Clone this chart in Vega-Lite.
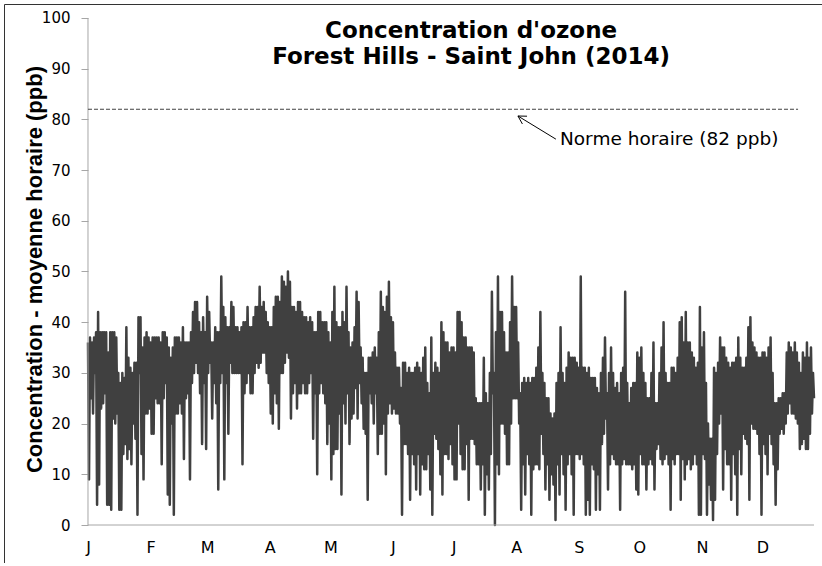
{
"$schema":"https://vega.github.io/schema/vega-lite/v6.json",
"width":820,"height":559,
"autosize":{"type":"none"},
"padding":{"left":4,"top":4,"right":0,"bottom":0},
"background":"white",
"config":{"view":{"stroke":"#333333","strokeWidth":1},"font":"DejaVu Sans"},
"layer":[
{"data":{"values":[
{"d":0,"v":36},{"d":0.5,"v":9},{"d":1,"v":37},{"d":1.5,"v":25},{"d":2,"v":36},{"d":2.5,"v":22},{"d":3,"v":37},{"d":3.5,"v":30},{"d":4,"v":38},{"d":4.5,"v":4},
{"d":5,"v":42},{"d":5.5,"v":8},{"d":6,"v":38},{"d":6.5,"v":23},{"d":7,"v":38},{"d":7.5,"v":24},{"d":8,"v":38},{"d":8.5,"v":26},{"d":9,"v":38},{"d":9.5,"v":4},
{"d":10,"v":34},{"d":10.5,"v":4},{"d":11,"v":38},{"d":11.5,"v":3},{"d":12,"v":38},{"d":12.5,"v":21},{"d":13,"v":38},{"d":13.5,"v":20},{"d":14,"v":37},{"d":14.5,"v":22},
{"d":15,"v":30},{"d":15.5,"v":3},{"d":16,"v":28},{"d":16.5,"v":3},{"d":17,"v":30},{"d":17.5,"v":14},{"d":18,"v":29},{"d":18.5,"v":16},{"d":19,"v":39},{"d":19.5,"v":13},
{"d":20,"v":33},{"d":20.5,"v":15},{"d":21,"v":31},{"d":21.5,"v":12},{"d":22,"v":30},{"d":22.5,"v":20},{"d":23,"v":32},{"d":23.5,"v":17},{"d":24,"v":32},{"d":24.5,"v":2},
{"d":25,"v":41},{"d":25.5,"v":30},{"d":26,"v":41},{"d":26.5,"v":14},{"d":27,"v":35},{"d":27.5,"v":9},{"d":28,"v":37},{"d":28.5,"v":22},{"d":29,"v":38},{"d":29.5,"v":22},
{"d":30,"v":37},{"d":30.5,"v":23},{"d":31,"v":36},{"d":31.5,"v":18},{"d":32,"v":37},{"d":32.5,"v":18},{"d":33,"v":37},{"d":33.5,"v":25},{"d":34,"v":37},{"d":34.5,"v":24},
{"d":35,"v":37},{"d":35.5,"v":24},{"d":36,"v":36},{"d":36.5,"v":12},{"d":37,"v":38},{"d":37.5,"v":25},{"d":38,"v":38},{"d":38.5,"v":28},{"d":39,"v":37},{"d":39.5,"v":6},
{"d":40,"v":35},{"d":40.5,"v":4},{"d":41,"v":33},{"d":41.5,"v":20},{"d":42,"v":35},{"d":42.5,"v":2},{"d":43,"v":37},{"d":43.5,"v":22},{"d":44,"v":37},{"d":44.5,"v":22},
{"d":45,"v":37},{"d":45.5,"v":24},{"d":46,"v":36},{"d":46.5,"v":22},{"d":47,"v":39},{"d":47.5,"v":13},{"d":48,"v":36},{"d":48.5,"v":25},{"d":49,"v":36},{"d":49.5,"v":26},
{"d":50,"v":36},{"d":50.5,"v":9},{"d":51,"v":38},{"d":51.5,"v":28},{"d":52,"v":42},{"d":52.5,"v":30},{"d":53,"v":44},{"d":53.5,"v":32},{"d":54,"v":44},{"d":54.5,"v":30},
{"d":55,"v":40},{"d":55.5,"v":26},{"d":56,"v":38},{"d":56.5,"v":16},{"d":57,"v":41},{"d":57.5,"v":28},{"d":58,"v":38},{"d":58.5,"v":15},{"d":59,"v":45},{"d":59.5,"v":30},
{"d":60,"v":42},{"d":60.5,"v":32},{"d":61,"v":36},{"d":61.5,"v":21},{"d":62,"v":36},{"d":62.5,"v":28},{"d":63,"v":39},{"d":63.5,"v":24},{"d":64,"v":38},{"d":64.5,"v":7},
{"d":65,"v":38},{"d":65.5,"v":28},{"d":66,"v":49},{"d":66.5,"v":30},{"d":67,"v":43},{"d":67.5,"v":9},{"d":68,"v":41},{"d":68.5,"v":28},{"d":69,"v":39},{"d":69.5,"v":18},
{"d":70,"v":39},{"d":70.5,"v":32},{"d":71,"v":44},{"d":71.5,"v":30},{"d":72,"v":43},{"d":72.5,"v":30},{"d":73,"v":39},{"d":73.5,"v":30},{"d":74,"v":39},{"d":74.5,"v":30},
{"d":75,"v":38},{"d":75.5,"v":30},{"d":76,"v":39},{"d":76.5,"v":12},{"d":77,"v":40},{"d":77.5,"v":26},{"d":78,"v":40},{"d":78.5,"v":28},{"d":79,"v":43},{"d":79.5,"v":30},
{"d":80,"v":39},{"d":80.5,"v":26},{"d":81,"v":39},{"d":81.5,"v":26},{"d":82,"v":41},{"d":82.5,"v":30},{"d":83,"v":43},{"d":83.5,"v":32},{"d":84,"v":43},{"d":84.5,"v":31},
{"d":85,"v":47},{"d":85.5,"v":32},{"d":86,"v":43},{"d":86.5,"v":34},{"d":87,"v":44},{"d":87.5,"v":34},{"d":88,"v":42},{"d":88.5,"v":30},{"d":89,"v":40},{"d":89.5,"v":28},
{"d":90,"v":39},{"d":90.5,"v":22},{"d":91,"v":39},{"d":91.5,"v":20},{"d":92,"v":43},{"d":92.5,"v":26},{"d":93,"v":45},{"d":93.5,"v":24},{"d":94,"v":45},{"d":94.5,"v":19},
{"d":95,"v":44},{"d":95.5,"v":30},{"d":96,"v":49},{"d":96.5,"v":30},{"d":97,"v":48},{"d":97.5,"v":32},{"d":98,"v":47},{"d":98.5,"v":34},{"d":99,"v":50},{"d":99.5,"v":33},
{"d":100,"v":48},{"d":100.5,"v":21},{"d":101,"v":43},{"d":101.5,"v":26},{"d":102,"v":43},{"d":102.5,"v":28},{"d":103,"v":42},{"d":103.5,"v":23},{"d":104,"v":44},{"d":104.5,"v":26},
{"d":105,"v":44},{"d":105.5,"v":26},{"d":106,"v":42},{"d":106.5,"v":28},{"d":107,"v":41},{"d":107.5,"v":26},{"d":108,"v":41},{"d":108.5,"v":26},{"d":109,"v":40},{"d":109.5,"v":28},
{"d":110,"v":41},{"d":110.5,"v":30},{"d":111,"v":40},{"d":111.5,"v":17},{"d":112,"v":38},{"d":112.5,"v":26},{"d":113,"v":38},{"d":113.5,"v":10},{"d":114,"v":42},{"d":114.5,"v":26},
{"d":115,"v":42},{"d":115.5,"v":28},{"d":116,"v":40},{"d":116.5,"v":26},{"d":117,"v":40},{"d":117.5,"v":24},{"d":118,"v":40},{"d":118.5,"v":16},{"d":119,"v":38},{"d":119.5,"v":20},
{"d":120,"v":36},{"d":120.5,"v":9},{"d":121,"v":42},{"d":121.5,"v":14},{"d":122,"v":47},{"d":122.5,"v":15},{"d":123,"v":40},{"d":123.5,"v":15},{"d":124,"v":39},{"d":124.5,"v":22},
{"d":125,"v":39},{"d":125.5,"v":6},{"d":126,"v":42},{"d":126.5,"v":24},{"d":127,"v":40},{"d":127.5,"v":20},{"d":128,"v":47},{"d":128.5,"v":26},{"d":129,"v":38},{"d":129.5,"v":16},
{"d":130,"v":35},{"d":130.5,"v":21},{"d":131,"v":36},{"d":131.5,"v":22},{"d":132,"v":39},{"d":132.5,"v":27},{"d":133,"v":46},{"d":133.5,"v":21},{"d":134,"v":44},{"d":134.5,"v":28},
{"d":135,"v":35},{"d":135.5,"v":24},{"d":136,"v":33},{"d":136.5,"v":19},{"d":137,"v":30},{"d":137.5,"v":18},{"d":138,"v":30},{"d":138.5,"v":5},{"d":139,"v":33},{"d":139.5,"v":26},
{"d":140,"v":33},{"d":140.5,"v":24},{"d":141,"v":34},{"d":141.5,"v":20},{"d":142,"v":35},{"d":142.5,"v":26},{"d":143,"v":33},{"d":143.5,"v":14},{"d":144,"v":38},{"d":144.5,"v":18},
{"d":145,"v":46},{"d":145.5,"v":18},{"d":146,"v":43},{"d":146.5,"v":20},{"d":147,"v":42},{"d":147.5,"v":10},{"d":148,"v":45},{"d":148.5,"v":22},{"d":149,"v":48},{"d":149.5,"v":24},
{"d":150,"v":41},{"d":150.5,"v":22},{"d":151,"v":40},{"d":151.5,"v":23},{"d":152,"v":34},{"d":152.5,"v":22},{"d":153,"v":31},{"d":153.5,"v":22},{"d":154,"v":31},{"d":154.5,"v":20},
{"d":155,"v":27},{"d":155.5,"v":2},{"d":156,"v":32},{"d":156.5,"v":16},{"d":157,"v":32},{"d":157.5,"v":16},{"d":158,"v":30},{"d":158.5,"v":14},{"d":159,"v":31},{"d":159.5,"v":5},
{"d":160,"v":30},{"d":160.5,"v":14},{"d":161,"v":30},{"d":161.5,"v":12},{"d":162,"v":31},{"d":162.5,"v":7},{"d":163,"v":32},{"d":163.5,"v":14},{"d":164,"v":31},{"d":164.5,"v":6},
{"d":165,"v":30},{"d":165.5,"v":12},{"d":166,"v":33},{"d":166.5,"v":11},{"d":167,"v":35},{"d":167.5,"v":11},{"d":168,"v":28},{"d":168.5,"v":14},{"d":169,"v":26},{"d":169.5,"v":7},
{"d":170,"v":37},{"d":170.5,"v":2},{"d":171,"v":30},{"d":171.5,"v":18},{"d":172,"v":32},{"d":172.5,"v":17},{"d":173,"v":31},{"d":173.5,"v":15},{"d":174,"v":30},{"d":174.5,"v":10},
{"d":175,"v":40},{"d":175.5,"v":6},{"d":176,"v":38},{"d":176.5,"v":14},{"d":177,"v":36},{"d":177.5,"v":14},{"d":178,"v":36},{"d":178.5,"v":13},{"d":179,"v":34},{"d":179.5,"v":16},
{"d":180,"v":35},{"d":180.5,"v":12},{"d":181,"v":35},{"d":181.5,"v":9},{"d":182,"v":34},{"d":182.5,"v":9},{"d":183,"v":42},{"d":183.5,"v":20},{"d":184,"v":42},{"d":184.5,"v":14},
{"d":185,"v":40},{"d":185.5,"v":11},{"d":186,"v":37},{"d":186.5,"v":11},{"d":187,"v":37},{"d":187.5,"v":16},{"d":188,"v":35},{"d":188.5,"v":5},{"d":189,"v":35},{"d":189.5,"v":17},
{"d":190,"v":35},{"d":190.5,"v":17},{"d":191,"v":34},{"d":191.5,"v":16},{"d":192,"v":25},{"d":192.5,"v":12},{"d":193,"v":24},{"d":193.5,"v":12},{"d":194,"v":24},{"d":194.5,"v":7},
{"d":195,"v":24},{"d":195.5,"v":12},{"d":196,"v":33},{"d":196.5,"v":2},{"d":197,"v":26},{"d":197.5,"v":10},{"d":198,"v":24},{"d":198.5,"v":7},{"d":199,"v":30},{"d":199.5,"v":14},
{"d":200,"v":46},{"d":200.5,"v":26},{"d":201,"v":30},{"d":201.5,"v":0},{"d":202,"v":38},{"d":202.5,"v":12},{"d":203,"v":49},{"d":203.5,"v":10},{"d":204,"v":42},{"d":204.5,"v":20},
{"d":205,"v":42},{"d":205.5,"v":20},{"d":206,"v":38},{"d":206.5,"v":18},{"d":207,"v":34},{"d":207.5,"v":12},{"d":208,"v":34},{"d":208.5,"v":12},{"d":209,"v":40},{"d":209.5,"v":20},
{"d":210,"v":49},{"d":210.5,"v":25},{"d":211,"v":43},{"d":211.5,"v":25},{"d":212,"v":43},{"d":212.5,"v":25},{"d":213,"v":36},{"d":213.5,"v":20},{"d":214,"v":26},{"d":214.5,"v":3},
{"d":215,"v":28},{"d":215.5,"v":12},{"d":216,"v":29},{"d":216.5,"v":6},{"d":217,"v":28},{"d":217.5,"v":14},{"d":218,"v":29},{"d":218.5,"v":12},{"d":219,"v":28},{"d":219.5,"v":2},
{"d":220,"v":29},{"d":220.5,"v":11},{"d":221,"v":29},{"d":221.5,"v":12},{"d":222,"v":31},{"d":222.5,"v":12},{"d":223,"v":35},{"d":223.5,"v":11},{"d":224,"v":42},{"d":224.5,"v":18},
{"d":225,"v":30},{"d":225.5,"v":14},{"d":226,"v":28},{"d":226.5,"v":7},{"d":227,"v":25},{"d":227.5,"v":12},{"d":228,"v":25},{"d":228.5,"v":5},{"d":229,"v":22},{"d":229.5,"v":10},
{"d":230,"v":21},{"d":230.5,"v":8},{"d":231,"v":22},{"d":231.5,"v":1},{"d":232,"v":28},{"d":232.5,"v":12},{"d":233,"v":30},{"d":233.5,"v":6},{"d":234,"v":39},{"d":234.5,"v":14},
{"d":235,"v":30},{"d":235.5,"v":10},{"d":236,"v":28},{"d":236.5,"v":3},{"d":237,"v":31},{"d":237.5,"v":12},{"d":238,"v":34},{"d":238.5,"v":14},{"d":239,"v":33},{"d":239.5,"v":10},
{"d":240,"v":33},{"d":240.5,"v":2},{"d":241,"v":33},{"d":241.5,"v":14},{"d":242,"v":32},{"d":242.5,"v":14},{"d":243,"v":31},{"d":243.5,"v":13},{"d":244,"v":49},{"d":244.5,"v":14},
{"d":245,"v":31},{"d":245.5,"v":12},{"d":246,"v":31},{"d":246.5,"v":2},{"d":247,"v":30},{"d":247.5,"v":5},{"d":248,"v":31},{"d":248.5,"v":2},{"d":249,"v":29},{"d":249.5,"v":12},
{"d":250,"v":29},{"d":250.5,"v":11},{"d":251,"v":29},{"d":251.5,"v":3},{"d":252,"v":27},{"d":252.5,"v":10},{"d":253,"v":26},{"d":253.5,"v":3},{"d":254,"v":30},{"d":254.5,"v":16},
{"d":255,"v":33},{"d":255.5,"v":18},{"d":256,"v":37},{"d":256.5,"v":21},{"d":257,"v":26},{"d":257.5,"v":7},{"d":258,"v":30},{"d":258.5,"v":12},{"d":259,"v":35},{"d":259.5,"v":14},
{"d":260,"v":30},{"d":260.5,"v":13},{"d":261,"v":27},{"d":261.5,"v":12},{"d":262,"v":28},{"d":262.5,"v":12},{"d":263,"v":26},{"d":263.5,"v":3},{"d":264,"v":30},{"d":264.5,"v":12},
{"d":265,"v":31},{"d":265.5,"v":13},{"d":266,"v":46},{"d":266.5,"v":12},{"d":267,"v":28},{"d":267.5,"v":12},{"d":268,"v":24},{"d":268.5,"v":12},{"d":269,"v":27},{"d":269.5,"v":11},
{"d":270,"v":28},{"d":270.5,"v":12},{"d":271,"v":28},{"d":271.5,"v":7},{"d":272,"v":34},{"d":272.5,"v":6},{"d":273,"v":33},{"d":273.5,"v":14},{"d":274,"v":35},{"d":274.5,"v":12},
{"d":275,"v":30},{"d":275.5,"v":12},{"d":276,"v":28},{"d":276.5,"v":7},{"d":277,"v":25},{"d":277.5,"v":12},{"d":278,"v":25},{"d":278.5,"v":13},{"d":279,"v":30},{"d":279.5,"v":12},
{"d":280,"v":36},{"d":280.5,"v":7},{"d":281,"v":24},{"d":281.5,"v":15},{"d":282,"v":24},{"d":282.5,"v":16},{"d":283,"v":30},{"d":283.5,"v":13},{"d":284,"v":35},{"d":284.5,"v":12},
{"d":285,"v":40},{"d":285.5,"v":13},{"d":286,"v":30},{"d":286.5,"v":14},{"d":287,"v":28},{"d":287.5,"v":12},{"d":288,"v":28},{"d":288.5,"v":3},{"d":289,"v":31},{"d":289.5,"v":13},
{"d":290,"v":31},{"d":290.5,"v":12},{"d":291,"v":30},{"d":291.5,"v":14},{"d":292,"v":33},{"d":292.5,"v":14},{"d":293,"v":40},{"d":293.5,"v":5},{"d":294,"v":41},{"d":294.5,"v":13},
{"d":295,"v":36},{"d":295.5,"v":9},{"d":296,"v":42},{"d":296.5,"v":12},{"d":297,"v":36},{"d":297.5,"v":13},{"d":298,"v":36},{"d":298.5,"v":11},{"d":299,"v":34},{"d":299.5,"v":12},
{"d":300,"v":33},{"d":300.5,"v":14},{"d":301,"v":31},{"d":301.5,"v":12},{"d":302,"v":32},{"d":302.5,"v":2},{"d":303,"v":43},{"d":303.5,"v":2},{"d":304,"v":35},{"d":304.5,"v":14},
{"d":305,"v":38},{"d":305.5,"v":13},{"d":306,"v":28},{"d":306.5,"v":2},{"d":307,"v":20},{"d":307.5,"v":8},{"d":308,"v":17},{"d":308.5,"v":5},{"d":309,"v":17},{"d":309.5,"v":1},
{"d":310,"v":31},{"d":310.5,"v":5},{"d":311,"v":30},{"d":311.5,"v":14},{"d":312,"v":32},{"d":312.5,"v":20},{"d":313,"v":37},{"d":313.5,"v":22},{"d":314,"v":35},{"d":314.5,"v":7},
{"d":315,"v":35},{"d":315.5,"v":15},{"d":316,"v":33},{"d":316.5,"v":12},{"d":317,"v":32},{"d":317.5,"v":12},{"d":318,"v":31},{"d":318.5,"v":5},{"d":319,"v":32},{"d":319.5,"v":14},
{"d":320,"v":32},{"d":320.5,"v":10},{"d":321,"v":33},{"d":321.5,"v":2},{"d":322,"v":37},{"d":322.5,"v":15},{"d":323,"v":33},{"d":323.5,"v":10},{"d":324,"v":31},{"d":324.5,"v":18},
{"d":325,"v":31},{"d":325.5,"v":17},{"d":326,"v":33},{"d":326.5,"v":16},{"d":327,"v":39},{"d":327.5,"v":5},{"d":328,"v":41},{"d":328.5,"v":20},{"d":329,"v":36},{"d":329.5,"v":19},
{"d":330,"v":35},{"d":330.5,"v":19},{"d":331,"v":34},{"d":331.5,"v":18},{"d":332,"v":33},{"d":332.5,"v":14},{"d":333,"v":33},{"d":333.5,"v":2},{"d":334,"v":34},{"d":334.5,"v":16},
{"d":335,"v":34},{"d":335.5,"v":14},{"d":336,"v":33},{"d":336.5,"v":10},{"d":337,"v":35},{"d":337.5,"v":18},{"d":338,"v":37},{"d":338.5,"v":16},{"d":339,"v":30},{"d":339.5,"v":12},
{"d":340,"v":24},{"d":340.5,"v":4},{"d":341,"v":24},{"d":341.5,"v":11},{"d":342,"v":25},{"d":342.5,"v":18},{"d":343,"v":25},{"d":343.5,"v":19},{"d":344,"v":26},{"d":344.5,"v":18},
{"d":345,"v":26},{"d":345.5,"v":20},{"d":346,"v":34},{"d":346.5,"v":22},{"d":347,"v":36},{"d":347.5,"v":24},{"d":348,"v":35},{"d":348.5,"v":22},{"d":349,"v":34},{"d":349.5,"v":22},
{"d":350,"v":36},{"d":350.5,"v":21},{"d":351,"v":34},{"d":351.5,"v":20},{"d":352,"v":32},{"d":352.5,"v":15},{"d":353,"v":30},{"d":353.5,"v":16},{"d":354,"v":34},{"d":354.5,"v":17},
{"d":355,"v":33},{"d":355.5,"v":15},{"d":356,"v":36},{"d":356.5,"v":15},{"d":357,"v":33},{"d":357.5,"v":18},{"d":358,"v":35},{"d":358.5,"v":22},{"d":359,"v":30},{"d":359.5,"v":25}
]},
"mark":{"type":"line","color":"#404040","strokeWidth":2.5,"strokeJoin":"round"},
"encoding":{
"x":{"field":"d","type":"quantitative","scale":{"domain":[-41.594,364.447],"nice":false,"zero":false},
"axis":{"values":[0,31,59,90,120,151,181,212,243,273,304,334],"labelExpr":"['J','F','M','A','M','J','J','A','S','O','N','D'][indexof([0,31,59,90,120,151,181,212,243,273,304,334], datum.value)]","ticks":false,"tickSize":0,"domain":false,"grid":false,"offset":-38,"labelPadding":14,"labelFontSize":16,"labelColor":"#000000","labelFont":"DejaVu Sans","labelDx":4,"title":null}},
"y":{"field":"v","type":"quantitative","scale":{"domain":[-7.495,102.761],"nice":false,"zero":false},
"axis":{"values":[0,5,10,15,20,25,30,35,40,45,50,55,60,65,70,75,80,85,90,95,100],"labelExpr":"datum.value % 10 === 0 ? datum.label : ''","grid":false,"domain":false,"tickColor":"#a6a6a6","tickSize":7,"labelPadding":11,"labelFontSize":15,"labelColor":"#000000","labelFont":"DejaVu Sans","offset":-84,"title":"Concentration - moyenne horaire (ppb)","titleFont":"Liberation Sans","titleFontSize":22,"titleFontWeight":"bold","titleColor":"#000000","titleX":-54,"titleY":265,"titleAngle":-90,"titleAlign":"center","titleBaseline":"middle"}}
}},
{"data":{"values":[{}]},
"mark":{"type":"rule","color":"#a6a6a6","strokeWidth":1},
"encoding":{"x":{"datum":0,"type":"quantitative"},"y":{"datum":0,"type":"quantitative"},"y2":{"datum":100}}},
{"data":{"values":[{}]},
"mark":{"type":"rule","color":"#a6a6a6","strokeWidth":1},
"encoding":{"y":{"datum":0,"type":"quantitative"},"x":{"datum":0,"type":"quantitative"},"x2":{"datum":359.5}}},
{"data":{"values":[{}]},
"mark":{"type":"rule","color":"#404040","strokeWidth":1,"strokeDash":[4,2]},
"encoding":{"y":{"datum":82,"type":"quantitative"},"x":{"datum":0,"type":"quantitative"},"x2":{"datum":351.6}}},
{"data":{"values":[{"x1":212.9,"y1":80.67,"x2":231.7,"y2":76.1},{"x1":212.9,"y1":80.67,"x2":217.4,"y2":80.63},{"x1":212.9,"y1":80.67,"x2":215.1,"y2":79.1}]},
"mark":{"type":"rule","color":"#000000","strokeWidth":1},
"encoding":{"x":{"field":"x1","type":"quantitative"},"y":{"field":"y1","type":"quantitative"},"x2":{"field":"x2"},"y2":{"field":"y2"}}},
{"data":{"values":[{}]},
"mark":{"type":"text","text":"Norme horaire (82 ppb)","align":"left","baseline":"middle","fontSize":18.5,"font":"DejaVu Sans","color":"#000000"},
"encoding":{"x":{"datum":233.7,"type":"quantitative"},"y":{"datum":76.2,"type":"quantitative"}}},
{"data":{"values":[{}]},
"mark":{"type":"text","text":["Concentration d'ozone","Forest Hills - Saint John (2014)"],"align":"center","baseline":"alphabetic","fontSize":23,"fontWeight":"bold","font":"DejaVu Sans","color":"#000000","lineHeight":26},
"encoding":{"x":{"datum":189.7,"type":"quantitative"},"y":{"datum":96.06,"type":"quantitative"}}}
]
}
